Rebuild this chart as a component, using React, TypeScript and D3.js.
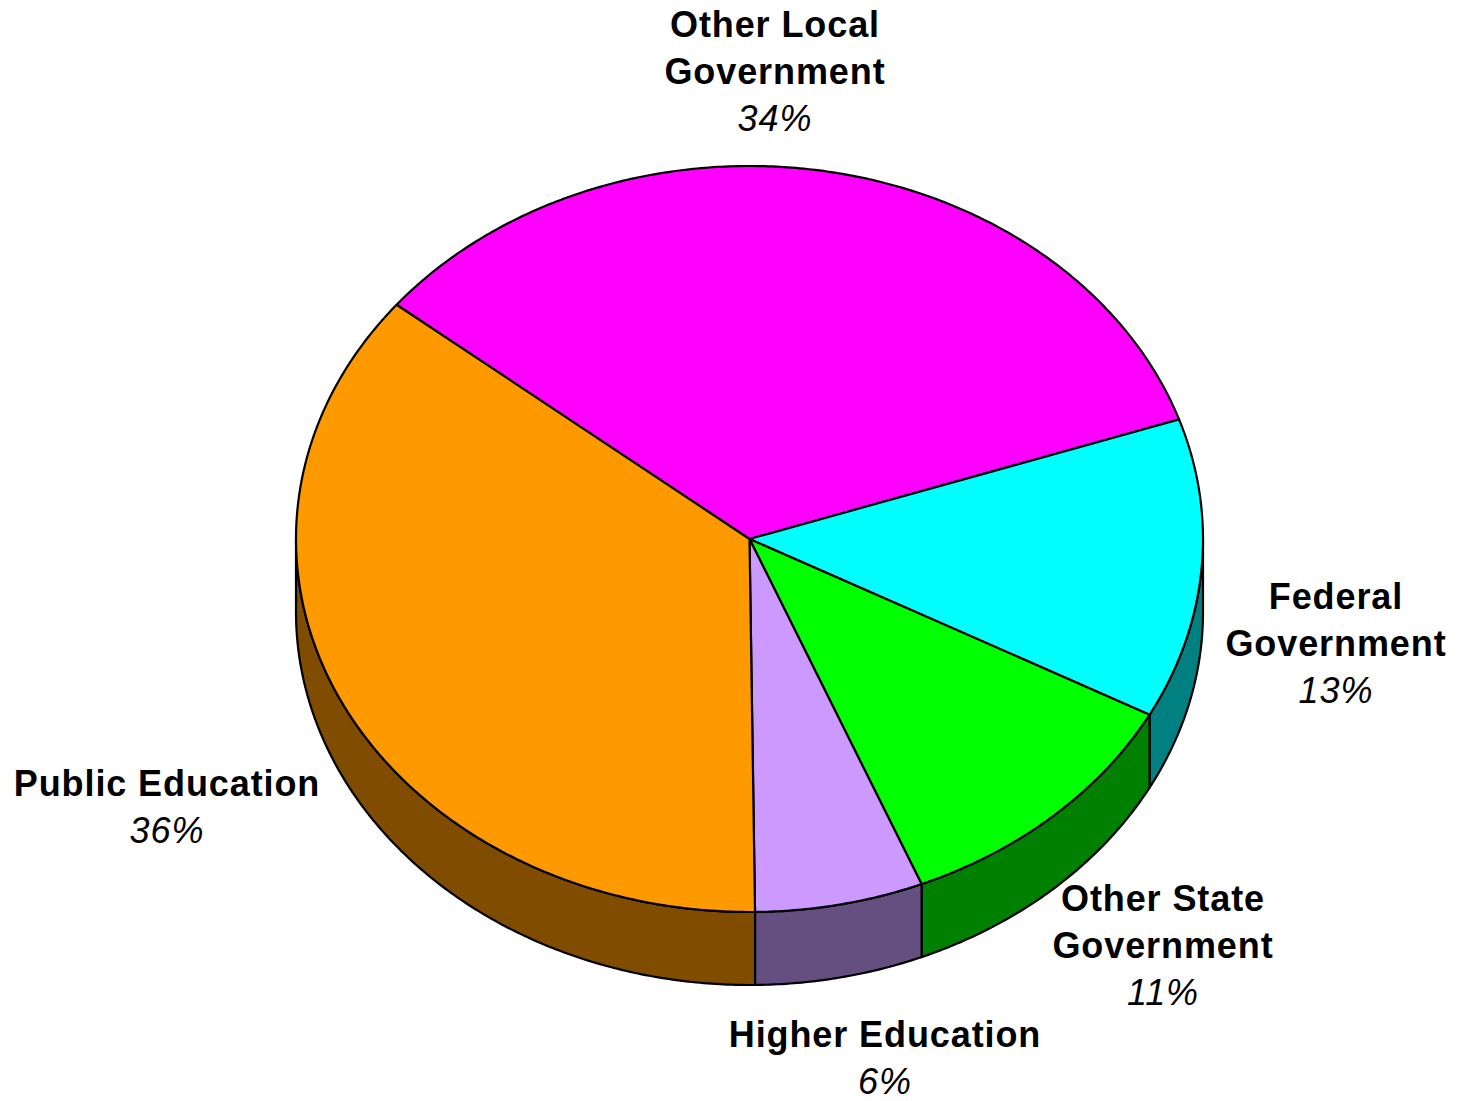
import React from "react";
import * as d3 from "d3";

const categories = ["Other Local Government", "Federal Government", "Other State Government", "Higher Education", "Public Education"];
const values = [34, 13, 11, 6, 36];
const labelLines = [["Other Local", "Government"], ["Federal", "Government"], ["Other State", "Government"], ["Higher Education"], ["Public Education"]];
const topColors = ["#FF00FF", "#00FFFF", "#00FF00", "#CC99FF", "#FF9900"];
const sideColors = ["#800080", "#008080", "#008000", "#654E80", "#804C00"];

const W = 1458, H = 1101;
const cx = 749.5, cy = 539, rx = 453.5, ry = 373, depth = 73;
const startDeg = 308.9;

const labelPos = [
  { x: 775, y: 37 },
  { x: 1336, y: 609 },
  { x: 1163, y: 911 },
  { x: 885, y: 1047 },
  { x: 167, y: 796 },
];

function pt(a: number, dy = 0): [number, number] {
  return [cx + rx * Math.sin(a), cy - ry * Math.cos(a) + dy];
}

function arcPts(a0: number, a1: number, dy = 0): [number, number][] {
  const n = Math.max(2, Math.ceil(Math.abs(a1 - a0) / (Math.PI / 360)));
  const out: [number, number][] = [];
  for (let i = 0; i <= n; i++) out.push(pt(a0 + ((a1 - a0) * i) / n, dy));
  return out;
}

function poly(p: [number, number][]) {
  return "M" + p.map((q) => q[0].toFixed(2) + "," + q[1].toFixed(2)).join("L") + "Z";
}

export default function App() {
  const s = (startDeg * Math.PI) / 180;
  const pie = d3.pie<number>().sort(null).value((d) => d).startAngle(s).endAngle(s + 2 * Math.PI);
  const arcs = pie(values);

  const sides: { d: string; c: string }[] = [];
  arcs.forEach((a, i) => {
    [0, 2 * Math.PI].forEach((off) => {
      const lo = Math.max(a.startAngle, Math.PI / 2 + off);
      const hi = Math.min(a.endAngle, (3 * Math.PI) / 2 + off);
      if (hi > lo) {
        const top = arcPts(lo, hi);
        const bot = arcPts(hi, lo, depth);
        sides.push({ d: poly([...top, ...bot]), c: sideColors[i] });
      }
    });
  });

  const tops = arcs.map((a, i) => ({
    d: poly([[cx, cy], ...arcPts(a.startAngle, a.endAngle)]),
    c: topColors[i],
  }));

  const fs = 36;
  const lh = 47;

  return (
    <svg width={W} height={H} style={{ position: "absolute", left: 0, top: 0, background: "#fff" }}>
      <rect width={W} height={H} fill="#fff" />
      {sides.map((p, i) => (
        <path key={"s" + i} d={p.d} fill={p.c} stroke="#000" strokeWidth={2.2} strokeLinejoin="round" />
      ))}
      {tops.map((p, i) => (
        <path key={"t" + i} d={p.d} fill={p.c} stroke="#000" strokeWidth={2.2} strokeLinejoin="round" />
      ))}
      {categories.map((c, i) => {
        const lp = labelPos[i];
        const lines = labelLines[i];
        return (
          <g key={"l" + i} fontFamily="'Liberation Sans', Arial, sans-serif" fontSize={fs} textAnchor="middle" fill="#000">
            {lines.map((ln, j) => (
              <text key={j} x={lp.x} y={lp.y + j * lh} fontWeight="bold" letterSpacing={0.9}>
                {ln}
              </text>
            ))}
            <text x={lp.x} y={lp.y + lines.length * lh} fontStyle="italic" letterSpacing={0.9}>
              {values[i] + "%"}
            </text>
          </g>
        );
      })}
    </svg>
  );
}
